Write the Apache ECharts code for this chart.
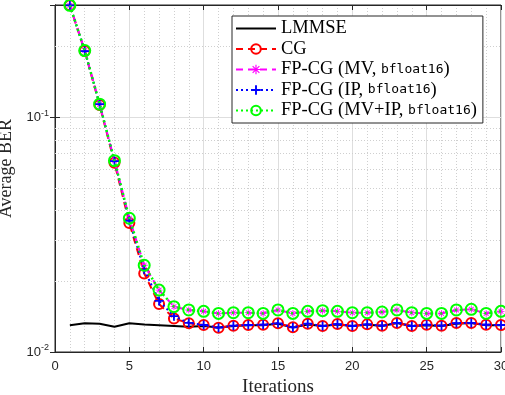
<!DOCTYPE html>
<html>
<head>
<meta charset="utf-8">
<script src="https://cdn.jsdelivr.net/npm/echarts@6/dist/echarts.min.js"></script>
<style>
  html, body { margin: 0; padding: 0; background: #fff; }
  #chart { width: 505px; height: 395px; }
</style>
</head>
<body>
<div id="chart"></div>
<script>
// data
const iterations = [1, 2, 3, 4, 5, 6, 7, 8, 9, 10, 11, 12, 13, 14, 15, 16, 17, 18, 19, 20, 21, 22, 23, 24, 25, 26, 27, 28, 29, 30];
const lmmse = [0.0130, 0.01325, 0.0132, 0.0128, 0.01325, 0.0131, 0.0130, 0.0129, 0.0128, 0.0129, 0.0127, 0.0129, 0.0130, 0.0130, 0.0132, 0.0127, 0.0131, 0.0129, 0.0131, 0.0129, 0.0131, 0.0129, 0.0133, 0.0129, 0.0130, 0.0129, 0.0132, 0.0133, 0.0130, 0.0130];
const cg = [0.299, 0.191, 0.1125, 0.0639, 0.0354, 0.0216, 0.0160, 0.0139, 0.01325, 0.01303, 0.01269, 0.01294, 0.01303, 0.01306, 0.01325, 0.01274, 0.0132, 0.0129, 0.01315, 0.0129, 0.01311, 0.01294, 0.0133, 0.0129, 0.01306, 0.01294, 0.01328, 0.0133, 0.01306, 0.01303];
const fpMV = [0.299, 0.192, 0.1135, 0.0652, 0.0371, 0.0234, 0.01835, 0.0156, 0.0151, 0.0149, 0.0146, 0.0147, 0.0147, 0.0146, 0.0151, 0.0146, 0.0149, 0.0150, 0.0149, 0.0147, 0.0147, 0.0148, 0.0151, 0.0147, 0.0146, 0.0146, 0.0151, 0.0152, 0.0146, 0.0149];
const fpIP = [0.299, 0.191, 0.1135, 0.0650, 0.0362, 0.0224, 0.0165, 0.0142, 0.0133, 0.01303, 0.01269, 0.01294, 0.01303, 0.01306, 0.01325, 0.01274, 0.0132, 0.0129, 0.01315, 0.0129, 0.01311, 0.01294, 0.0133, 0.0129, 0.01306, 0.01294, 0.01328, 0.0133, 0.01306, 0.01303];
const fpMVIP = [0.299, 0.192, 0.1135, 0.0652, 0.0371, 0.0234, 0.01835, 0.0156, 0.0151, 0.0149, 0.0146, 0.0147, 0.0147, 0.0146, 0.0151, 0.0146, 0.0149, 0.0150, 0.0149, 0.0147, 0.0147, 0.0148, 0.0151, 0.0147, 0.0146, 0.0146, 0.0151, 0.0152, 0.0146, 0.0149];
const yMinorTicks = [0.02, 0.03, 0.04, 0.05, 0.06, 0.07, 0.08, 0.09, 0.2];
const legendNames = ['LMMSE', 'CG', 'FP-CG (MV, bfloat16)', 'FP-CG (IP, bfloat16)', 'FP-CG (MV+IP, bfloat16)'];

const axisColor = '#262626';
const gridColor = '#dedede';
const minorColor = '#cfcfcf';
const plusPath = 'path://M-1,-5h2v4h4v2h-4v4h-2v-4h-4v-2h4z';
const starPath = 'path://M-0.6,-5h1.2v10h-1.2z M-5,-0.6h10v1.2h-10z M-3.08,-3.92L3.92,3.08L3.08,3.92L-3.92,-3.08z M-3.92,3.08L3.08,-3.92L3.92,-3.08L-3.08,3.92z';

const pairs = arr => iterations.map((x, i) => [x, arr[i]]);

const chart = echarts.init(document.getElementById('chart'));

const makeLine = (name, data, color, lineType, width, symbol, size, hollow, z) => ({
    name: name,
    type: 'line',
    data: pairs(data),
    z: z,
    clip: false,
    animation: false,
    symbol: symbol,
    symbolSize: size,
    showSymbol: size > 0,
    lineStyle: { color: color, width: width, type: lineType },
    itemStyle: hollow
        ? { color: 'rgba(0,0,0,0)', borderColor: color, borderWidth: 2 }
        : { color: color, borderWidth: 0 },
    emphasis: { disabled: true },
});

chart.setOption({
    backgroundColor: '#fff',
    animation: false,
    grid: {
        left: 55,
        right: 4,
        top: 5,
        bottom: 43,
        outerBoundsMode: 'none',
        containLabel: false,
        show: true,
        borderColor: axisColor,
        borderWidth: 1,
        backgroundColor: '#fff',
    },
    legend: {
        data: [
            { name: legendNames[0], itemStyle: { opacity: 0 } },
            legendNames[1],
            legendNames[2],
            legendNames[3],
            legendNames[4],
        ],
        orient: 'vertical',
        left: 232,
        top: 16,
        itemWidth: 40,
        itemHeight: 12,
        itemGap: 1.5,
        padding: [3, 6, 3, 3],
        backgroundColor: '#fff',
        borderColor: axisColor,
        borderWidth: 1,
        borderRadius: 0,
        selectedMode: false,
        formatter: name => {
            const m = name.match(/^(.*, )bfloat16\)$/);
            return m ? '{t|' + m[1] + '}{c|bfloat16}{t|)}' : '{t|' + name + '}';
        },
        textStyle: {
            rich: {
                t: { fontFamily: 'Liberation Serif', fontSize: 18.5, lineHeight: 18, color: '#000' },
                c: { fontFamily: 'DejaVu Sans Mono', fontSize: 13, lineHeight: 18, color: '#000' },
            },
        },
    },
    xAxis: [
        {
            type: 'value',
            min: 0,
            max: 30,
            interval: 5,
            name: 'Iterations',
            nameLocation: 'middle',
            nameGap: 26,
            nameTextStyle: { fontFamily: 'Liberation Serif', fontSize: 19, color: axisColor },
            axisLine: { show: true, lineStyle: { color: axisColor, width: 1 } },
            axisTick: { show: true, inside: true, length: 5, lineStyle: { color: axisColor } },
            axisLabel: { fontFamily: 'Liberation Sans', fontSize: 13, color: axisColor, margin: 8 },
            splitLine: { show: true, lineStyle: { color: gridColor, width: 1 } },
            minorTick: { show: false, splitNumber: 5 },
            minorSplitLine: { show: true, lineStyle: { color: minorColor, width: 1, type: [1, 2] } },
        },
        {
            type: 'value',
            position: 'top',
            min: 0,
            max: 30,
            interval: 5,
            axisLine: { show: true, lineStyle: { color: axisColor } },
            axisTick: { show: true, inside: true, length: 5, lineStyle: { color: axisColor } },
            axisLabel: { show: false },
            splitLine: { show: false },
        },
    ],
    yAxis: [
        {
            type: 'log',
            logBase: 10,
            min: 0.01,
            max: 0.3,
            name: 'Average BER',
            nameLocation: 'middle',
            nameGap: 26,
            nameTextStyle: { fontFamily: 'Liberation Serif', fontSize: 18, color: axisColor, padding: [0, 0, 0, 20] },
            axisLine: { show: true, lineStyle: { color: axisColor, width: 1 } },
            axisTick: { show: true, inside: true, length: 5, lineStyle: { color: axisColor } },
            axisLabel: {
                margin: 6,
                color: axisColor,
                formatter: v => {
                    const lg = Math.log10(v);
                    const e = Math.round(lg);
                    if (Math.abs(lg - e) > 1e-6) return '';
                    return '{b|10}{s|' + e + '}';
                },
                rich: {
                    b: { fontFamily: 'Liberation Sans', fontSize: 13, color: axisColor },
                    s: { fontFamily: 'Liberation Sans', fontSize: 9, color: axisColor, padding: [0, 0, 8, 0] },
                },
            },
            splitLine: { show: true, lineStyle: { color: gridColor, width: 1 } },
        },
        {
            type: 'log',
            logBase: 10,
            min: 0.01,
            max: 0.3,
            position: 'right',
            axisLine: { show: true, lineStyle: { color: axisColor } },
            axisTick: { show: true, inside: true, length: 5, lineStyle: { color: axisColor } },
            axisLabel: { show: false },
            splitLine: { show: false },
        },
    ],
    series: [
        {
            name: 'minor-grid',
            type: 'line',
            data: [],
            silent: true,
            markLine: {
                silent: true,
                z: 1,
                symbol: 'none',
                label: { show: false },
                lineStyle: { color: minorColor, width: 1, type: [1, 2] },
                emphasis: { disabled: true },
                data: yMinorTicks.map(v => ({ yAxis: v })),
            },
        },
        makeLine(legendNames[0], lmmse, '#000000', 'solid', 2, 'circle', 0, false, 3),
        makeLine(legendNames[1], cg, '#ff0000', [7, 5], 2, 'circle', 10, true, 4),
        makeLine(legendNames[2], fpMV, '#ff00ff', [7, 5], 2, starPath, 7, false, 5),
        makeLine(legendNames[3], fpIP, '#0000ff', [2, 3], 2, plusPath, 9, false, 6),
        makeLine(legendNames[4], fpMVIP, '#00ff00', [2, 3], 2.5, 'circle', 11, true, 7),
    ],
});
</script>
</body>
</html>
